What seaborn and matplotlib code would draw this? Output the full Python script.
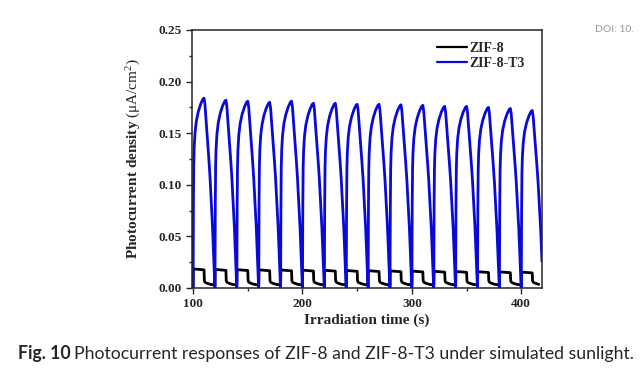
import numpy as np
import pandas as pd
import matplotlib
matplotlib.use("Agg")
import matplotlib.pyplot as plt
from matplotlib.ticker import MultipleLocator, FormatStrFormatter
import seaborn as sns

# light-on times (s), one cycle every 20 s
cycle_start = [100, 120, 140, 160, 180, 200, 220, 240, 260, 280, 300, 320, 340, 360, 380, 400]
# ZIF-8-T3 peak photocurrent per cycle (uA/cm2)
t3_peak = [0.184, 0.182, 0.181, 0.180, 0.181, 0.179, 0.179, 0.178,
           0.178, 0.1775, 0.177, 0.176, 0.176, 0.175, 0.174, 0.172]
# ZIF-8 plateau level per cycle
zif8_on = [0.0185, 0.0180, 0.0178, 0.0176, 0.0175, 0.0173, 0.0172, 0.0170,
           0.0168, 0.0166, 0.0164, 0.0162, 0.0160, 0.0158, 0.0156, 0.0154]

# shape of one ZIF-8-T3 cycle (offset s, fraction of peak)
t3_off = [0, 0.3, 0.6, 1.0, 1.8, 3, 4.8, 7, 9, 10.0, 10.8, 12.2, 13.4, 14.4,
          15.4, 16.2, 17.0, 17.7, 18.4, 18.9, 19.4, 19.85]
t3_frac = [0, 0.45, 0.65, 0.74, 0.82, 0.88, 0.93, 0.97, 0.995, 1.0, 0.97, 0.86,
           0.77, 0.68, 0.59, 0.50, 0.41, 0.33, 0.23, 0.15, 0.07, 0.01]
# shape of one ZIF-8 cycle (offset s, value); None = plateau level
z8_off = [0, 0.2, 10, 10.3, 11, 13, 16, 19.8]
z8_val = [0.003, None, None, 0.007, 0.0055, 0.0045, 0.0035, 0.003]

t_max = 419

rows = []
for c, p in zip(cycle_start, t3_peak):
    for o, f in zip(t3_off, t3_frac):
        if c + o <= t_max:
            rows.append(("ZIF-8-T3", c + o, f * p))
for c, p in zip(cycle_start, zif8_on):
    for i, (o, v) in enumerate(zip(z8_off, z8_val)):
        if v is None:
            v = p if i == 1 else p * 0.95
        if c == 100 and i == 0:
            v = 0.0
        if c + o <= t_max:
            rows.append(("ZIF-8", c + o, v))
df = pd.DataFrame(rows, columns=["sample", "time", "current"])

sns.set_style("ticks")
plt.rcParams["font.family"] = ["Liberation Serif", "DejaVu Serif"]
plt.rcParams["mathtext.fontset"] = "custom"
plt.rcParams["mathtext.rm"] = "Liberation Serif"
plt.rcParams["mathtext.it"] = "Liberation Serif:italic"

fig = plt.figure(figsize=(6.4, 3.75), dpi=100)
ax = fig.add_axes([0.30, 0.232, 0.547, 0.688])

sns.lineplot(data=df, x="time", y="current", hue="sample", hue_order=["ZIF-8", "ZIF-8-T3"],
             palette={"ZIF-8": "black", "ZIF-8-T3": "#0a0ad8"}, estimator=None, sort=False,
             linewidth=2.0, ax=ax)

ax.set_xlim(99, t_max)
ax.set_ylim(0, 0.25)
ax.xaxis.set_major_locator(MultipleLocator(100))
ax.xaxis.set_minor_locator(MultipleLocator(50))
ax.yaxis.set_major_locator(MultipleLocator(0.05))
ax.yaxis.set_minor_locator(MultipleLocator(0.025))
ax.yaxis.set_major_formatter(FormatStrFormatter("%.2f"))
ax.tick_params(which="major", length=4, width=1, direction="out", labelsize=9.5)
ax.tick_params(which="minor", length=2.5, width=1, direction="out")
for lab in ax.get_xticklabels() + ax.get_yticklabels():
    lab.set_fontweight("bold")
for s in ax.spines.values():
    s.set_visible(True)
    s.set_linewidth(1.1)

ax.set_xlabel("Irradiation time (s)", fontsize=11, fontweight="bold", labelpad=2)
ax.set_ylabel(r"Photocurrent density $\mathrm{(\mu A/cm^2)}$", fontsize=11,
              fontweight="bold", labelpad=11)

leg = ax.legend(loc="upper right", frameon=False, fontsize=10, handlelength=2.2,
                handletextpad=0.15, labelspacing=0.15, borderaxespad=0, borderpad=0,
                bbox_to_anchor=(0.95, 0.955))
for t in leg.get_texts():
    t.set_fontweight("bold")
for h in leg.get_lines():
    h.set_linewidth(1.6)

# caption: bold "Fig. 10" followed by regular text
cap1 = fig.text(0.028, 0.043, "Fig. 10", fontsize=12.7, family="Lato", fontweight="bold")
fig.canvas.draw()
bb = cap1.get_window_extent(fig.canvas.get_renderer())
fig.text(bb.x1 / fig.bbox.width + 0.006, 0.043,
         "Photocurrent responses of ZIF-8 and ZIF-8-T3 under simulated sunlight.",
         fontsize=12.7, family="Lato")
fig.text(0.93, 0.915, "DOI: 10.", fontsize=7.5, family="Lato", color="#999999")

fig.savefig("out.png", dpi=100)
